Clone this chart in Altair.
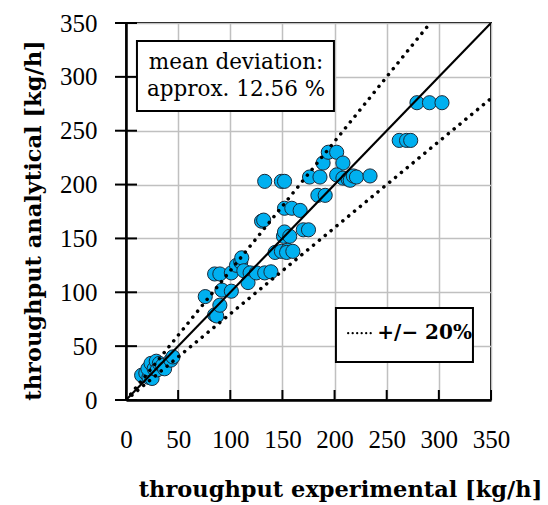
import altair as alt
import pandas as pd

# ---- data ----
exp_x = [15, 19, 22, 25, 21, 24, 27, 29, 30, 32, 35, 37, 43, 45,
         76, 85, 87, 90, 85, 90, 92, 101, 101, 106, 110, 111, 113, 119, 117, 125, 133, 139,
         130, 132,
         143, 149, 155, 154, 160,
         151, 152, 157,
         170, 175,
         152, 159, 167,
         133, 149, 152,
         176, 186,
         184, 191,
         189, 194, 202, 208,
         202, 208, 213, 215, 218, 221, 234,
         262, 269, 273,
         279, 291, 303]
ana_y = [23, 25, 21, 20, 29, 34, 29, 36, 28, 34, 32, 29, 37, 40,
         96, 79, 78, 88, 117, 117, 102, 101, 118, 125, 128, 132, 120, 118, 109, 118, 118, 119,
         166, 167,
         137, 138, 139, 137, 138,
         152, 156, 152,
         158, 158,
         178, 178, 176,
         203, 203, 203,
         207, 207,
         190, 190,
         220, 230, 230, 220,
         209, 206, 205, 204, 208, 207, 208,
         241, 241, 241,
         276, 276, 276]

tick_values = [0, 50, 100, 150, 200, 250, 300, 350]

ideal_x = [0, 350]
ideal_y = [0, 350]
upper_x = [0, 291.67]
upper_y = [0, 350]
lower_x = [0, 350]
lower_y = [0, 280]

note_lines = ["mean deviation:", "approx. 12.56 %"]
note_line_y = [313, 288]
note_x = 105.5
note_box = {"x": 10.5, "x2": 199.4, "y": 268.3, "y2": 333.3}

legend_label = "+/\u2212 20%"
legend_box = {"x": 201.3, "x2": 332.7, "y": 35.3, "y2": 85.4}
legend_line = {"x": 213, "x2": 238.5, "y": 62}
legend_text_pos = {"x": 241, "y": 62}

FONT = "DejaVu Serif"
NUM_FONT = "Liberation Serif"

points = pd.DataFrame({"x": exp_x, "y": ana_y})
ticks_df = pd.DataFrame({"v": tick_values})
ideal_df = pd.DataFrame({"x": ideal_x, "y": ideal_y})
band_df = pd.concat([
    pd.DataFrame({"x": upper_x, "y": upper_y, "s": "upper"}),
    pd.DataFrame({"x": lower_x, "y": lower_y, "s": "lower"}),
])
note_df = pd.DataFrame({"t": note_lines, "y": note_line_y, "x": note_x})
note_box_df = pd.DataFrame([note_box])
legend_box_df = pd.DataFrame([legend_box])
legend_line_df = pd.DataFrame([legend_line])
legend_text_df = pd.DataFrame([{"t": legend_label, **legend_text_pos}])

xs = alt.Scale(domain=[0, 350], nice=False, zero=False)
ys = alt.Scale(domain=[0, 350], nice=False, zero=False)

x_axis = alt.Axis(values=tick_values, grid=True, gridColor="#c0c0c0", gridWidth=1.5,
                  domainColor="black", domainWidth=2.5, ticks=False, labelOverlap=False,
                  labelFlush=False,
                  labelFont=NUM_FONT, labelFontSize=25, labelColor="black", labelPadding=27,
                  title="throughput experimental [kg/h]", titleFont=FONT, titleFontSize=22.5,
                  titleFontWeight="bold", titleColor="black", titleX=214, titleY=96,
                  titleBaseline="alphabetic", titleAlign="center")
y_axis = alt.Axis(values=tick_values, grid=True, gridColor="#c0c0c0", gridWidth=1.5,
                  domainColor="black", domainWidth=2.5, ticks=False, labelOverlap=False,
                  labelFlush=False,
                  labelFont=NUM_FONT, labelFontSize=25, labelColor="black", labelPadding=29,
                  title="throughput analytical [kg/h]", titleFont=FONT, titleFontSize=22.5,
                  titleFontWeight="bold", titleColor="black", titleX=-86, titleY=197,
                  titleAngle=-90, titleBaseline="alphabetic", titleAlign="center")

base_pts = alt.Chart(points).mark_circle(
    size=200, color="#00b0f0", opacity=1, stroke="#1a2a3a", strokeWidth=1
).encode(
    x=alt.X("x:Q", scale=xs, axis=x_axis),
    y=alt.Y("y:Q", scale=ys, axis=y_axis),
)

ideal = alt.Chart(ideal_df).mark_line(color="black", strokeWidth=2.2, clip=True).encode(
    x=alt.X("x:Q", scale=xs), y=alt.Y("y:Q", scale=ys))

band = alt.Chart(band_df).mark_line(color="black", strokeWidth=3.5, strokeDash=[0.1, 7.5],
                                   strokeCap="round", clip=True).encode(
    x=alt.X("x:Q", scale=xs), y=alt.Y("y:Q", scale=ys), detail="s:N")

yticks = alt.Chart(ticks_df).mark_rule(color="black", strokeWidth=2).encode(
    y=alt.Y("v:Q", scale=ys), x=alt.value(-11), x2=alt.value(11))
xticks = alt.Chart(ticks_df).mark_rule(color="black", strokeWidth=2).encode(
    x=alt.X("v:Q", scale=xs), y=alt.value(377), y2=alt.value(367))

nbox = alt.Chart(note_box_df).mark_rect(fill="white", stroke="black", strokeWidth=2).encode(
    x=alt.X("x:Q", scale=xs), x2="x2:Q", y=alt.Y("y:Q", scale=ys), y2="y2:Q")
ntext = alt.Chart(note_df).mark_text(font=FONT, fontSize=21.5, color="black",
                                     align="center", baseline="middle").encode(
    x=alt.X("x:Q", scale=xs), y=alt.Y("y:Q", scale=ys), text="t:N")

lbox = alt.Chart(legend_box_df).mark_rect(fill="white", stroke="black", strokeWidth=2).encode(
    x=alt.X("x:Q", scale=xs), x2="x2:Q", y=alt.Y("y:Q", scale=ys), y2="y2:Q")
lline = alt.Chart(legend_line_df).mark_rule(color="black", strokeWidth=2.2, strokeDash=[0.1, 4.4],
                                            strokeCap="round").encode(
    x=alt.X("x:Q", scale=xs), x2="x2:Q", y=alt.Y("y:Q", scale=ys))
ltext = alt.Chart(legend_text_df).mark_text(font=FONT, fontSize=20, fontWeight="bold",
                                            color="black", align="left", baseline="middle").encode(
    x=alt.X("x:Q", scale=xs), y=alt.Y("y:Q", scale=ys), text="t:N")

chart = alt.layer(base_pts, ideal, band, yticks, xticks, nbox, ntext, lbox, lline, ltext).properties(
    width=365, height=377,
    autosize=alt.AutoSizeParams(type="none"),
    padding={"left": 126, "top": 23, "right": 57, "bottom": 105},
    background="white",
).configure_view(stroke="black", strokeWidth=2)

chart.save("out.html", embed_options={"renderer": "svg", "actions": False})
